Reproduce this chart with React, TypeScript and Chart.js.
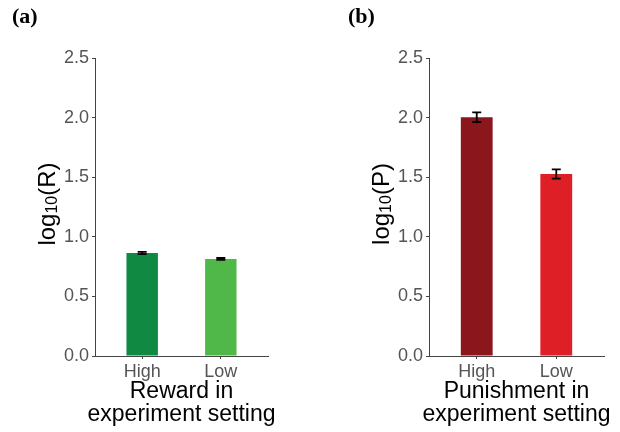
import React, { useEffect, useRef } from "react";
import { Chart, registerables } from "chart.js";
Chart.register(...registerables);

const categories = ["High", "Low"];
const rewardValues = [0.864, 0.814];
const rewardErrors = [0.01, 0.008];
const punishmentValues = [2.003, 1.527];
const punishmentErrors = [0.04, 0.039];
const yTicks = [0, 0.5, 1.0, 1.5, 2.0, 2.5];
const rewardColors = ["#108a43", "#4fb848"];
const punishmentColors = ["#8b161b", "#de1f26"];
const rewardXTitle = ["Reward in", "experiment setting"];
const punishmentXTitle = ["Punishment in", "experiment setting"];
const rewardYTitle = ["log", "10", "(R)"];
const punishmentYTitle = ["log", "10", "(P)"];

const FONT = "'Liberation Sans', Arial, Helvetica, sans-serif";

function makeErrorPlugin(values: number[], errors: number[]) {
  return {
    id: "errorBars",
    afterDatasetsDraw(chart: any) {
      const ctx = chart.ctx;
      const meta = chart.getDatasetMeta(0);
      const y = chart.scales.y;
      ctx.save();
      ctx.strokeStyle = "#000";
      ctx.lineWidth = 1.8;
      meta.data.forEach((bar: any, i: number) => {
        const x = bar.x;
        const yt = y.getPixelForValue(values[i] + errors[i]);
        const yb = y.getPixelForValue(values[i] - errors[i]);
        const hw = 4.5;
        ctx.beginPath();
        ctx.moveTo(x, yt);
        ctx.lineTo(x, yb);
        ctx.moveTo(x - hw, yt);
        ctx.lineTo(x + hw, yt);
        ctx.moveTo(x - hw, yb);
        ctx.lineTo(x + hw, yb);
        ctx.stroke();
      });
      ctx.restore();
    },
  };
}

function makeTitlePlugin(xTitle: string[], yTitle: string[]) {
  return {
    id: "axisTitles",
    afterDraw(chart: any) {
      const ctx = chart.ctx;
      const area = chart.chartArea;
      ctx.save();
      ctx.fillStyle = "#000";
      // x title
      ctx.font = `23px ${FONT}`;
      ctx.textAlign = "center";
      ctx.textBaseline = "alphabetic";
      const cx = (area.left + area.right) / 2;
      xTitle.forEach((line, i) => {
        ctx.fillText(line, cx, area.bottom + 42 + i * 23);
      });
      // y title with subscript
      const mainFont = `24px ${FONT}`;
      const subFont = `16px ${FONT}`;
      ctx.font = mainFont;
      const w0 = ctx.measureText(yTitle[0]).width;
      const w2 = ctx.measureText(yTitle[2]).width;
      ctx.font = subFont;
      const w1 = ctx.measureText(yTitle[1]).width;
      const total = w0 + w1 + w2;
      const cy = (area.top + area.bottom) / 2 - 3;
      ctx.translate(area.left - 40, cy);
      ctx.rotate(-Math.PI / 2);
      ctx.textAlign = "left";
      let x = -total / 2;
      ctx.font = mainFont;
      ctx.fillText(yTitle[0], x, 0);
      x += w0;
      ctx.font = subFont;
      ctx.fillText(yTitle[1], x, 2);
      x += w1;
      ctx.font = mainFont;
      ctx.fillText(yTitle[2], x, 0);
      ctx.restore();
    },
  };
}

function Panel({ values, errors, colors, yTitle, xTitle, rightPad }: any) {
  const ref = useRef<HTMLCanvasElement>(null);
  useEffect(() => {
    const chart = new Chart(ref.current as HTMLCanvasElement, {
      type: "bar",
      data: {
        datasets: [
          {
            data: categories.map((c, i) => ({ x: i + 1, y: values[i] })) as any,
            backgroundColor: colors,
            borderWidth: 0,
            barPercentage: 0.4,
            categoryPercentage: 1,
          },
        ],
      },
      options: {
        responsive: false,
        animation: false,
        layout: { padding: { top: 58, right: rightPad, left: 0, bottom: 0 } },
        plugins: { legend: { display: false }, tooltip: { enabled: false } },
        scales: {
          x: {
            type: "linear",
            offset: false,
            min: 0.4,
            max: 2.6,
            afterBuildTicks: (s: any) => {
              s.ticks = categories.map((_, i) => ({ value: i + 1 }));
            },
            afterFit: (s: any) => {
              s.height = 76;
            },
            grid: { drawOnChartArea: false, drawTicks: true, tickLength: 3, color: "#444", offset: false },
            border: { display: true, color: "#444", width: 1 },
            ticks: {
              autoSkip: false,
              maxRotation: 0,
              padding: 2,
              color: "#555",
              font: { family: FONT, size: 18 },
              callback: (v: any) => categories[Math.round(v) - 1] ?? "",
            },
            title: { display: false },
          },
          y: {
            type: "linear",
            min: 0,
            max: 2.5,
            afterBuildTicks: (s: any) => {
              s.ticks = yTicks.map((v) => ({ value: v }));
            },
            afterFit: (s: any) => {
              s.width = 95;
            },
            grid: { drawOnChartArea: false, drawTicks: true, tickLength: 3, color: "#444" },
            border: { display: true, color: "#444", width: 1 },
            ticks: {
              padding: 3,
              color: "#555",
              font: { family: FONT, size: 18 },
              callback: (v: any) => Number(v).toFixed(1),
            },
            title: { display: false },
          },
        },
      },
      plugins: [makeErrorPlugin(values, errors), makeTitlePlugin(xTitle, yTitle)],
    } as any);
    return () => chart.destroy();
  }, []);
  return <canvas ref={ref} width={290} height={432} />;
}

export default function App() {
  const label: React.CSSProperties = {
    position: "absolute",
    top: 3,
    fontFamily: "'Liberation Serif', 'Times New Roman', serif",
    fontWeight: "bold",
    fontSize: 22,
    color: "#000",
  };
  return (
    <div style={{ position: "absolute", left: 0, top: 0, width: 620, height: 432, background: "#fff", overflow: "hidden" }}>
      <div style={{ position: "absolute", left: 0, top: 0 }}>
        <Panel
          values={rewardValues}
          errors={rewardErrors}
          colors={rewardColors}
          yTitle={rewardYTitle}
          xTitle={rewardXTitle}
          rightPad={22}
        />
      </div>
      <div style={{ position: "absolute", left: 334, top: 0 }}>
        <Panel
          values={punishmentValues}
          errors={punishmentErrors}
          colors={punishmentColors}
          yTitle={punishmentYTitle}
          xTitle={punishmentXTitle}
          rightPad={20}
        />
      </div>
      <div style={{ ...label, left: 12 }}>(a)</div>
      <div style={{ ...label, left: 348 }}>(b)</div>
    </div>
  );
}
